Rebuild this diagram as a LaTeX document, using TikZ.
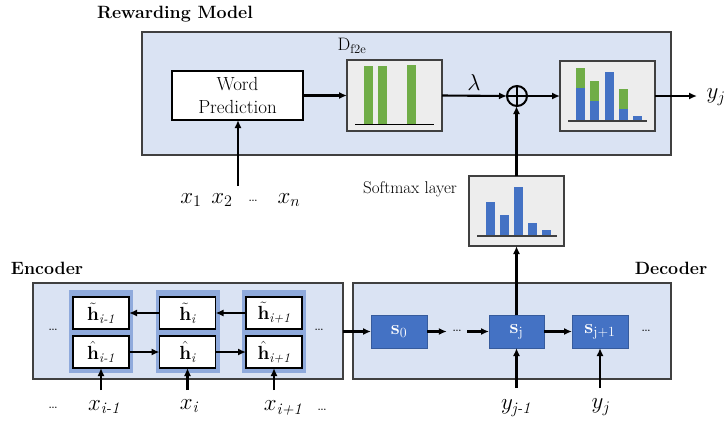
\RequirePackage{fix-cm}
\documentclass[tikz,border=0pt]{standalone}
\usepackage{amsmath}
\usetikzlibrary{arrows.meta}
\definecolor{panel}{HTML}{DAE3F3}
\definecolor{grp}{HTML}{8FAADC}
\definecolor{chartbg}{HTML}{EDEDED}
\definecolor{gbar}{HTML}{70AD47}
\definecolor{bbar}{HTML}{4472C4}
\definecolor{edgec}{HTML}{404040}
\begin{document}
\begin{tikzpicture}[x=1pt,y=-1pt,
  panelbox/.style={draw=edgec,fill=panel,line width=1.2pt,inner sep=0,outer sep=0},
  whitebox/.style={draw=black,fill=white,line width=1.2pt,inner sep=0,outer sep=0},
  chartbox/.style={draw=edgec,fill=chartbg,line width=1.2pt,inner sep=0,outer sep=0},
  grpbox/.style={fill=grp,inner sep=0,outer sep=0},
  sbox/.style={fill=bbar,draw=bbar!80!black,line width=0.6pt,inner sep=0,outer sep=0,minimum width=56,minimum height=33,text=white,font=\fontsize{20}{22}\selectfont},
  arr/.style={line width=2.1pt,-{Latex[length=8pt,width=7pt]}},
  title/.style={font=\fontsize{17.8}{20}\selectfont\bfseries},
  mlab/.style={font=\fontsize{23}{26}\selectfont,inner sep=0},
  dots/.style={font=\fontsize{17}{18}\selectfont,inner sep=0},
  hb/.style={whitebox,minimum width=56,minimum height=32,font=\fontsize{19}{20}\selectfont}
]
\useasboundingbox (0,0) rectangle (726,421);

% ---------- Rewarding model ----------
\node[title] (rmt) at (175,14) {Rewarding Model};
\node[panelbox,minimum width=529,minimum height=123] (rm) at (406.5,93.5) {};
\node[whitebox,minimum width=131,minimum height=49,align=center,font=\fontsize{19}{23}\selectfont] (wp) at (237.5,95.5) {Word\\Prediction};
\node[chartbox,minimum width=95,minimum height=71] (dfe) at (394.5,95.5) {};
\node[font=\fontsize{18}{20}\selectfont,inner sep=0] (dlab) at (352,46) {D$_{\text{f2e}}$};
\fill[gbar] (364,66) rectangle (373,124);
\fill[gbar] (378,66) rectangle (387,124);
\fill[gbar] (407,65) rectangle (416,124);
\draw[line width=1.2pt] (355,124.3) -- (434,124.3);

\node[circle,draw,line width=2pt,minimum size=20,inner sep=0,outer sep=0] (op) at (517,96) {};
\draw[line width=2pt] (op.north) -- (op.south) (op.west) -- (op.east);
\node[mlab] (lam) at (474,83) {$\lambda$};

\node[chartbox,minimum width=95,minimum height=70] (out) at (607.5,96) {};
\fill[bbar] (576,88) rectangle (585,121); \fill[gbar] (576,68) rectangle (585,88);
\fill[bbar] (590,101) rectangle (599,121); \fill[gbar] (590,81) rectangle (599,101);
\fill[bbar] (605,72) rectangle (614,121);
\fill[bbar] (619,109) rectangle (628,121); \fill[gbar] (619,89) rectangle (628,109);
\fill[bbar] (633,116) rectangle (642,121);
\draw[line width=1.2pt,edgec] (568,121) -- (647,121);

\coordinate (yout) at (697,96);
\node[mlab] (yjo) at (716,97) {$y_j$};

\draw[arr] (wp.east |- dfe.west) -- (dfe.west);
\draw[arr] (dfe.east) -- (op.west);
\draw[arr] (op.east) -- (out.west);
\draw[arr] (out.east) -- (yout);

% Word prediction inputs
\coordinate (xin) at (238,186);
\draw[arr] (xin) -- (xin |- wp.south);
\node[mlab] (x1) at (191,200) {$x_1$};
\node[mlab] (x2) at (222,200) {$x_2$};
\node[dots] (xd) at (253,201) {\ldots};
\node[mlab] (xn) at (289,200) {$x_n$};

% ---------- Softmax ----------
\node[chartbox,minimum width=95,minimum height=70] (sm) at (516.5,211) {};
\node[font=\fontsize{17}{18}\selectfont,inner sep=0] (smt) at (410,189) {Softmax layer};
\fill[bbar] (486,202) rectangle (495,236);
\fill[bbar] (500,215) rectangle (509,236);
\fill[bbar] (514,187) rectangle (523,236);
\fill[bbar] (528,223) rectangle (537,236);
\fill[bbar] (542,230) rectangle (551,236);
\draw[line width=1.2pt,edgec] (477,236) -- (557,236);
\draw[arr] (sm.north) -- (sm.north |- op.south);

% ---------- Encoder ----------
\node[title] (enct) at (47,268) {Encoder};
\node[panelbox,minimum width=310,minimum height=96] (enc) at (188,331) {};
\node[grpbox,minimum width=64,minimum height=83] (g1) at (101,331.5) {};
\node[grpbox,minimum width=64,minimum height=83] (g2) at (188,331.5) {};
\node[grpbox,minimum width=64,minimum height=83] (g3) at (274,331.5) {};
\node[hb] (t1) at (101,313) {$\tilde{\mathbf{h}}_{\textit{i-1}}$};
\node[hb] (t2) at (187.5,313) {$\tilde{\mathbf{h}}_{\textit{i}}$};
\node[hb] (t3) at (274,313) {$\tilde{\mathbf{h}}_{\textit{i+1}}$};
\node[hb] (b1) at (101,352) {$\hat{\mathbf{h}}_{\textit{i-1}}$};
\node[hb] (b2) at (187.5,352) {$\hat{\mathbf{h}}_{\textit{i}}$};
\node[hb] (b3) at (274,352) {$\hat{\mathbf{h}}_{\textit{i+1}}$};
\draw[arr] (t2.west) -- (t1.east);
\draw[arr] (t3.west) -- (t2.east);
\draw[arr] (b1.east) -- (b2.west);
\draw[arr] (b2.east) -- (b3.west);
\node[dots] (edl) at (53,330) {\ldots};
\node[dots] (edr) at (319,330) {\ldots};
\coordinate (xi1) at (101,390);
\coordinate (xi2) at (187.5,390);
\coordinate (xi3) at (274,390);
\draw[arr] (xi1) -- (b1.south);
\draw[arr] (xi2) -- (b2.south);
\draw[arr] (xi3) -- (b3.south);
\node[mlab] (lx1) at (104,407) {$x_{\textit{i-1}}$};
\node[mlab] (lx2) at (189,406) {$x_{\textit{i}}$};
\node[mlab] (lx3) at (283,408) {$x_{\textit{i+1}}$};
\node[dots] (xdl) at (53,408) {\ldots};
\node[dots] (xdr) at (322,410) {\ldots};

% ---------- Decoder ----------
\node[title] (dect) at (671,268) {Decoder};
\node[panelbox,minimum width=318,minimum height=96] (dec) at (512,331) {};
\node[sbox] (s0) at (399,331.5) {$\mathbf{s}_0$};
\node[sbox,minimum width=55] (sj) at (516.5,331.5) {$\mathbf{s}_{\mathrm{j}}$};
\node[sbox] (sj1) at (600,331.5) {$\mathbf{s}_{\mathrm{j+1}}$};
\node[dots,minimum width=20] (dd) at (457,331) {\ldots};
\node[dots] (ddr) at (646,331) {\ldots};
\draw[arr] (enc.east |- s0.west) -- (s0.west);
\draw[arr] (s0.east) -- (dd.west |- s0.east);
\draw[arr] (dd.east |- sj.west) -- (sj.west);
\draw[arr] (sj.east) -- (sj1.west);
\draw[arr] (sj.north) -- (sm.south);
\coordinate (yi1) at (516.5,388);
\coordinate (yi2) at (600,388);
\draw[arr] (yi1) -- (sj.south);
\draw[arr] (yi2) -- (sj1.south);
\node[mlab] (ly1) at (516,408) {$y_{\textit{j-1}}$};
\node[mlab] (ly2) at (601,407) {$y_j$};
\end{tikzpicture}
\end{document}
